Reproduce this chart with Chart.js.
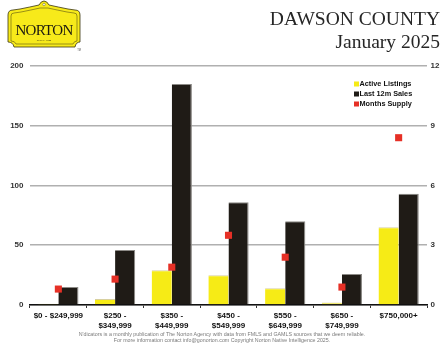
<!DOCTYPE html>
<html>
<head>
<meta charset="utf-8">
<script src="https://cdn.jsdelivr.net/npm/chart.js@4/dist/chart.umd.min.js"></script>
<style>
  html, body { margin: 0; padding: 0; background: #fff; }
  #wrap { position: relative; width: 445px; height: 344px; overflow: hidden; }
  #marketChart { position: absolute; left: 0; top: 0; }
  #overlay { position: absolute; left: 0; top: 0; pointer-events: none; }
</style>
</head>
<body>
<div id="wrap">
  <canvas id="marketChart" width="445" height="344"></canvas>
  <svg id="overlay" width="445" height="344" xmlns="http://www.w3.org/2000/svg">
    <!-- logo badge -->
    <path d="M8,15 Q8,10 13,10 L20,9 Q30,7 39,5 Q41,1 44,1 Q47,1 49,5 Q58,7 68,9 L75,10 Q80,10 80,15 L80,42 Q76,42 75,47 L14,47 Q13,42 8,42 Z"
          fill="#f7ea1a" stroke="#3a3510" stroke-width="0.8"/>
    <path d="M11,16 Q11,13 14,13 L21,12 Q31,10 40,8 L48,8 Q57,10 67,12 L74,13 Q77,13 77,16 L77,41 Q74,41 73,44 L16,44 Q15,41 11,41 Z"
          fill="none" stroke="#3a3510" stroke-width="0.5"/>
    <circle cx="44" cy="4.5" r="1.2" fill="#fff" stroke="#3a3510" stroke-width="0.4"/>
    <text x="44" y="34.5" text-anchor="middle" font-family="Liberation Serif" font-size="15" fill="#1c1a10" letter-spacing="-0.7">NORTON</text>
    <text x="44" y="40.5" text-anchor="middle" font-family="Liberation Serif" font-size="2.8" fill="#1c1a10">SINCE 1928</text>
    <text x="79" y="51" text-anchor="middle" font-family="Liberation Sans" font-size="2.6" fill="#555">TM</text>

    <!-- heading -->
    <text x="440" y="25" text-anchor="end" font-family="Liberation Serif" font-size="19.5" fill="#262626">DAWSON COUNTY</text>
    <text x="440" y="48.3" text-anchor="end" font-family="Liberation Serif" font-size="19.5" fill="#262626">January 2025</text>

    <!-- footnote -->
    <text x="222" y="335.5" text-anchor="middle" font-family="Liberation Sans" font-size="5.3" fill="#7a7a7a">N'dicators is a monthly publication of The Norton Agency with data from FMLS and GAMLS sources that we deem reliable.</text>
    <text x="222" y="342" text-anchor="middle" font-family="Liberation Sans" font-size="5.3" fill="#7a7a7a">For more information contact info@gonorton.com Copyright Norton Native Intelligence 2025.</text>
  </svg>
</div>
<script>
const priceRanges = [
    ["$0 - $249,999"],
    ["$250 -", "$349,999"],
    ["$350 -", "$449,999"],
    ["$450 -", "$549,999"],
    ["$550 -", "$649,999"],
    ["$650 -", "$749,999"],
    ["$750,000+"],
];
const activeListings = [1, 5, 29, 25, 14, 2, 65];
const last12mSales = [15, 46, 185, 86, 70, 26, 93];
const monthsSupply = [0.8, 1.3, 1.9, 3.5, 2.4, 0.9, 8.4];

const countTicks = [0, 50, 100, 150, 200];
const supplyTicks = [0, 3, 6, 9, 12];

const YELLOW = "#f6eb16";
const BLACK = "#1f1b16";
const RED = "#e63026";

// small legend block drawn inside the plot, top right
const cornerLegend = {
    id: "cornerLegend",
    afterDraw(chart) {
        const ctx = chart.ctx;
        ctx.save();
        ctx.font = "bold 7.3px 'Liberation Sans'";
        ctx.textBaseline = "middle";
        chart.data.datasets.forEach((ds, i) => {
            const y = 84 + i * 10;
            ctx.fillStyle = ds.legendColor;
            ctx.fillRect(354, y - 2.5, 5, 5);
            ctx.fillStyle = "#111";
            ctx.fillText(ds.label, 359.5, y + 0.3);
        });
        ctx.restore();
    },
};

document.addEventListener("DOMContentLoaded", () => {
    const ctx = document.getElementById("marketChart").getContext("2d");
    new Chart(ctx, {
        type: "bar",
        data: {
            labels: priceRanges,
            datasets: [
                {
                    label: "Active Listings",
                    data: activeListings,
                    backgroundColor: YELLOW,
                    borderColor: "#d8d0a0",
                    borderWidth: { top: 1, right: 0, left: 0, bottom: 0 },
                    borderSkipped: false,
                    legendColor: YELLOW,
                    yAxisID: "y",
                    order: 2,
                },
                {
                    label: "Last 12m Sales",
                    data: last12mSales,
                    backgroundColor: BLACK,
                    borderColor: "#8c8a86",
                    borderWidth: { top: 1, right: 1.2, left: 0, bottom: 0 },
                    borderSkipped: false,
                    legendColor: BLACK,
                    yAxisID: "y",
                    order: 2,
                },
                {
                    type: "line",
                    label: "Months Supply",
                    data: monthsSupply,
                    showLine: false,
                    pointStyle: "rect",
                    pointRadius: 5,
                    pointHoverRadius: 5,
                    pointBackgroundColor: RED,
                    pointBorderWidth: 0,
                    legendColor: RED,
                    yAxisID: "y1",
                    order: 1,
                },
            ],
        },
        options: {
            responsive: false,
            animation: false,
            layout: { padding: { top: 66, left: 0, right: 0, bottom: 0 } },
            datasets: {
                bar: { categoryPercentage: 0.71, barPercentage: 1.0 },
            },
            plugins: {
                legend: { display: false },
                tooltip: { enabled: false },
            },
            scales: {
                x: {
                    offset: true,
                    afterFit: (scale) => { scale.height = 39; },
                    grid: {
                        drawOnChartArea: false,
                        drawTicks: true,
                        tickLength: 3,
                        color: "#333",
                        offset: true,
                    },
                    border: { color: "#111", width: 1.5 },
                    ticks: {
                        color: "#111",
                        padding: 2,
                        maxRotation: 0,
                        autoSkip: false,
                        font: { family: "'Liberation Sans'", size: 8, weight: "bold", lineHeight: 1.35 },
                    },
                },
                y: {
                    position: "left",
                    min: 0,
                    max: 200,
                    afterFit: (scale) => { scale.width = 30; },
                    afterBuildTicks: (scale) => { scale.ticks = countTicks.map((v) => ({ value: v })); },
                    grid: { color: "#b0b0b0", lineWidth: 1.6, drawTicks: false },
                    border: { display: false },
                    ticks: {
                        color: "#333",
                        padding: 6.5,
                        font: { family: "'Liberation Sans'", size: 8, weight: "bold" },
                    },
                },
                y1: {
                    position: "right",
                    min: 0,
                    max: 12,
                    afterFit: (scale) => { scale.width = 18; },
                    afterBuildTicks: (scale) => { scale.ticks = supplyTicks.map((v) => ({ value: v })); },
                    grid: { drawOnChartArea: false, drawTicks: false },
                    border: { display: false },
                    ticks: {
                        color: "#333",
                        padding: 3.5,
                        font: { family: "'Liberation Sans'", size: 8, weight: "bold" },
                    },
                },
            },
        },
        plugins: [cornerLegend],
    });
});
</script>
</body>
</html>
